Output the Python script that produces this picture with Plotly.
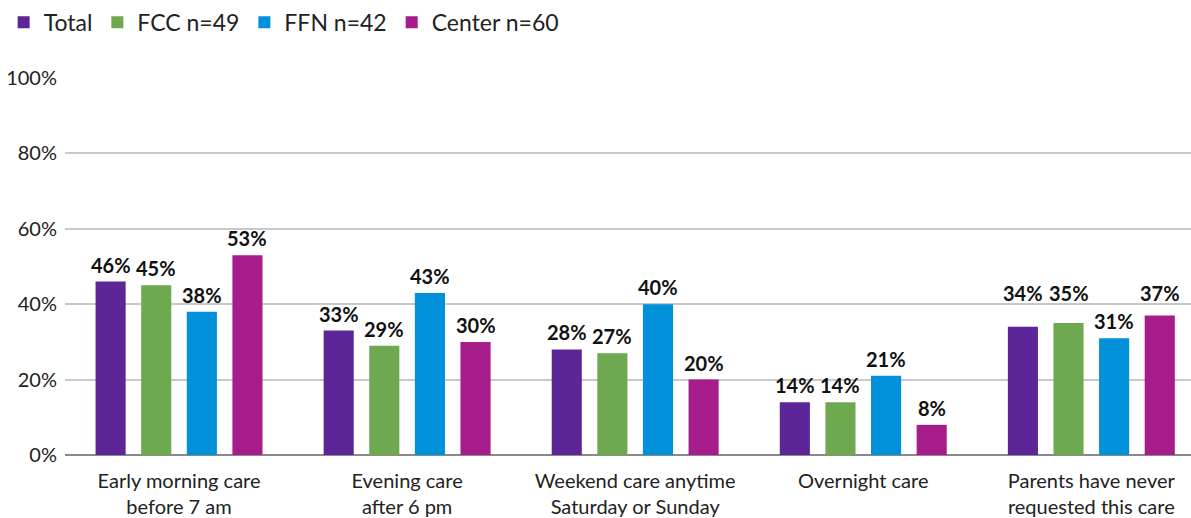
import plotly.graph_objects as go

categories = [
    "Early morning care<br>before 7 am",
    "Evening care<br>after 6 pm",
    "Weekend care anytime<br>Saturday or Sunday",
    "Overnight care",
    "Parents have never<br>requested this care",
]
series_names = ["Total", "FCC n=49", "FFN n=42", "Center n=60"]
total = [46, 33, 28, 14, 34]
fcc = [45, 29, 27, 14, 35]
ffn = [38, 43, 40, 21, 31]
center = [53, 30, 20, 8, 37]
y_ticks = [0, 20, 40, 60, 80, 100]
y_tick_labels = ["0%", "20%", "40%", "60%", "80%", "100%"]

colors = ["#5C2699", "#6EA84F", "#0091DA", "#A51C8A"]
values = [total, fcc, ffn, center]
FONT = "Lato"

x_pos = list(range(len(categories)))
fig = go.Figure()
for name, vals, col in zip(series_names, values, colors):
    fig.add_trace(go.Bar(
        x=x_pos, y=vals, name=name, marker=dict(color=col, line=dict(width=0)),
        hoverinfo="skip",
    ))

# value labels above each bar; in the last group the labels share one line
n = len(series_names)
slot = 0.8 / n
for si, vals in enumerate(values):
    for ci, v in enumerate(vals):
        xc = ci - 0.4 + slot * (si + 0.5)
        y_anchor = v
        shift = 3
        if ci == len(categories) - 1 and v != min(g[ci] for g in values):
            y_anchor = max(g[ci] for g in values)
            shift = 9
        fig.add_annotation(
            x=xc, y=y_anchor, text=f"<b>{v}%</b>", showarrow=False,
            xanchor="center", yanchor="bottom", yshift=shift,
            font=dict(family=FONT, size=20, color="#111111"),
        )

fig.update_layout(
    width=1191, height=518,
    margin=dict(l=65, r=0, t=78, b=61),
    paper_bgcolor="white", plot_bgcolor="white",
    barmode="group", bargap=0.2, bargroupgap=0.34,
    font=dict(family=FONT, size=20, color="#222222"),
    legend=dict(
        orientation="h", x=-0.0545, xanchor="left", y=1.148, yanchor="middle",
        font=dict(family=FONT, size=23, color="#222222"),
        traceorder="normal", itemclick=False,
    ),
    xaxis=dict(
        tickmode="array", tickvals=x_pos, ticktext=categories,
        range=[-0.5, 4.437], showgrid=False, zeroline=False,
        showline=False, ticks="", ticklabelstandoff=12,
        tickfont=dict(family=FONT, size=20, color="#222222"),
    ),
    yaxis=dict(
        range=[0, 100], tickmode="array", tickvals=y_ticks, ticktext=y_tick_labels,
        showgrid=True, gridcolor="#C8C8C8", gridwidth=2,
        zeroline=True, zerolinecolor="#8A8A8A", zerolinewidth=2,
        showline=False, ticks="", ticklabelstandoff=7,
        tickfont=dict(family=FONT, size=20, color="#222222"),
    ),
)

fig.write_html("out.html")
